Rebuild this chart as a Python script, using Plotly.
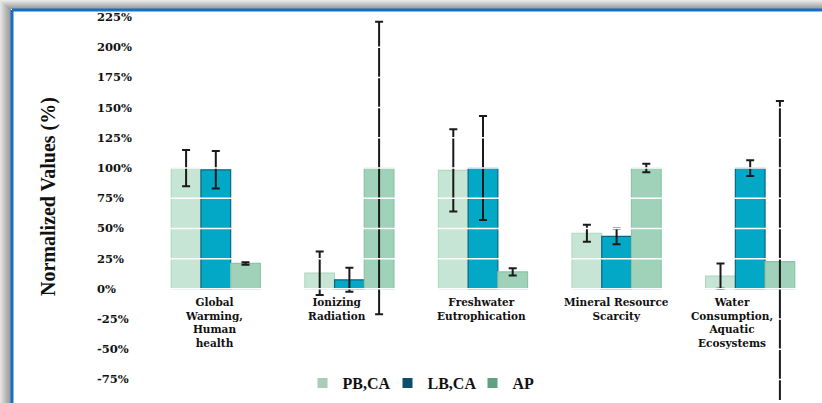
import plotly.graph_objects as go

categories = ["Global Warming, Human health", "Ionizing Radiation", "Freshwater Eutrophication",
              "Mineral Resource Scarcity", "Water Consumption, Aquatic Ecosystems"]
cat_labels = ["Global<br>Warming,<br>Human<br>health", "Ionizing<br>Radiation",
              "Freshwater<br>Eutrophication", "Mineral Resource<br>Scarcity",
              "Water<br>Consumption,<br>Aquatic<br>Ecosystems"]
series_names = ["PB,CA", "LB,CA", "AP"]
pb_ca = [100, 13, 98, 46, 10.5]
pb_ca_err = [15, 18, 34, 7, 10.5]
lb_ca = [98.5, 7.5, 100, 43.5, 100]
lb_ca_err = [15.5, 10, 43, 6.5, 6.5]
ap = [21, 100, 14, 100, 22.5]
ap_err = [1, 121, 3, 3.5, 133]
y_ticks = [-75, -50, -25, 0, 25, 50, 75, 100, 125, 150, 175, 200, 225]
y_tick_text = [f"{v}%" for v in y_ticks]

W, H = 822, 403
ML, MR, MT, MB = 149, 5, 17, 3
PW, PH = W - ML - MR, H - MT - MB
label_xshift = [-2, -12, -2, 0, -18]


def px2x(px):
    return (px - ML) / PW


def py2y(py):
    return (H - MB - py) / PH


bar_fill = ["#c6e5d4", "#02a8c6", "#9fd2b9"]
bar_line = ["#b3d8c4", "#0a6580", "#8cc4a8"]
legend_col = ["#a9cdb9", "#0d4f6b", "#5f9f82"]

fig = go.Figure()
for name, vals, errs, fc, lc in zip(series_names, [pb_ca, lb_ca, ap], [pb_ca_err, lb_ca_err, ap_err],
                                     bar_fill, bar_line):
    fig.add_trace(go.Bar(
        x=categories, y=vals, name=name, showlegend=False,
        marker=dict(color=fc, line=dict(color=lc, width=1.2)),
        error_y=dict(type="data", array=errs, visible=True, color="#1a1a1a", thickness=2, width=4),
    ))
for name, col in zip(series_names, legend_col):
    fig.add_trace(go.Scatter(x=[None], y=[None], mode="markers", name=name,
                             marker=dict(symbol="square", size=10, color=col)))

shapes = []
# white gridlines drawn over the bars
for v in range(-100, 226, 25):
    shapes.append(dict(type="line", xref="paper", yref="y", x0=0, x1=1, y0=v, y1=v,
                       line=dict(color="white", width=1.5), layer="above"))
# frame shadow
left_grays = ["#e4e4e4", "#dcdcdc", "#d4d4d4", "#cccccc", "#c4c4c4", "#bcbcbc", "#b4b4b4", "#acacac", "#a6a6a6", "#a0a0a0", "#9a9a9a"]
for i, g in enumerate(left_grays):
    shapes.append(dict(type="rect", xref="paper", yref="paper", x0=px2x(i), x1=px2x(i + 1),
                       y0=py2y(H), y1=py2y(0), fillcolor=g, line=dict(width=0), layer="below"))
top_grays = ["#e8e8e8", "#e0e0e0", "#d6d6d6", "#cccccc", "#c2c2c2", "#b8b8b8", "#aeaeae", "#a4a4a4", "#9c9c9c"]
for i, g in enumerate(top_grays):
    shapes.append(dict(type="rect", xref="paper", yref="paper", x0=px2x(i), x1=px2x(W),
                       y0=py2y(i + 1), y1=py2y(i), fillcolor=g, line=dict(width=0), layer="below"))
# blue border
shapes.append(dict(type="line", xref="paper", yref="paper", x0=px2x(12), x1=px2x(W),
                   y0=py2y(10), y1=py2y(10), line=dict(color="#1570c4", width=3), layer="above"))
shapes.append(dict(type="line", xref="paper", yref="paper", x0=px2x(12), x1=px2x(12),
                   y0=py2y(10), y1=py2y(H), line=dict(color="#1570c4", width=3), layer="above"))

annotations = []
for v, t in zip(y_ticks, y_tick_text):
    annotations.append(dict(x=px2x(95), xref="paper", y=v, yref="y", text=t, showarrow=False,
                            xanchor="left", yanchor="middle",
                            font=dict(family="DejaVu Serif", size=11.5, color="#111111", weight="bold")))
for c, lab, xs in zip(categories, cat_labels, label_xshift):
    annotations.append(dict(x=c, xref="x", y=0, yref="y", yshift=-5, xshift=xs, text=lab, showarrow=False,
                            xanchor="center", yanchor="top",
                            font=dict(family="DejaVu Serif", size=10.5, color="#111111", weight="bold")))
annotations.append(dict(x=px2x(48), xref="paper", y=py2y(197), yref="paper", text="Normalized Values (%)",
                        textangle=-90, showarrow=False, xanchor="center", yanchor="middle",
                        font=dict(family="Liberation Serif", size=20, color="#111111", weight="bold")))

fig.update_layout(
    width=W, height=H,
    margin=dict(l=ML, r=MR, t=MT, b=MB),
    paper_bgcolor="white", plot_bgcolor="white",
    barmode="group", bargap=0.333, bargroupgap=0,
    xaxis=dict(showticklabels=False, showgrid=False, zeroline=False, showline=False, ticks=""),
    yaxis=dict(range=[-92, 225], showticklabels=False, showgrid=False, zeroline=False,
               showline=False, ticks=""),
    legend=dict(orientation="h", x=px2x(430), xanchor="center", y=py2y(383), yanchor="middle",
                bgcolor="rgba(0,0,0,0)", font=dict(family="Liberation Serif", size=16, color="#111111",
                                                    weight="bold"),
                itemwidth=30, tracegroupgap=0, entrywidth=40, entrywidthmode="pixels"),
    shapes=shapes, annotations=annotations, showlegend=True,
)

fig.write_html("out.html")
